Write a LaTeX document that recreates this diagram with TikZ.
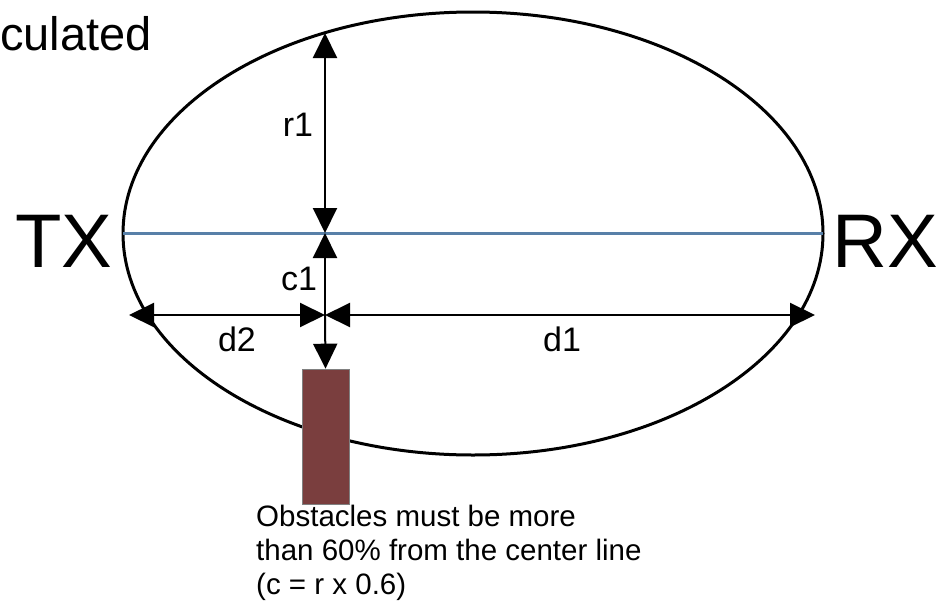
\documentclass[tikz,border=0pt]{standalone}
\usepackage{fontspec}
\setmainfont{Liberation Sans}
\usetikzlibrary{arrows.meta,positioning,shapes.geometric}
\definecolor{losblue}{RGB}{88,128,168}
\definecolor{brick}{RGB}{122,62,62}

\begin{document}
\begin{tikzpicture}[x=1pt,y=-1pt,
  dim/.style={line width=2pt,{Triangle[length=25pt,width=24pt]}-{Triangle[length=25pt,width=24pt]}},
  tip/.style={line width=2pt,-{Triangle[length=25pt,width=24pt]}},
  lbl/.style={inner sep=0pt,font=\fontsize{34}{40}\selectfont},
  big/.style={inner sep=0pt,font=\fontsize{76}{90}\selectfont}]
\useasboundingbox (0,0) rectangle (939,608);
\node[ellipse,draw,line width=3pt,minimum width=700pt,minimum height=443pt,inner sep=0pt,outer sep=0pt] (zone) at (473,233.5) {};
\draw[losblue,line width=3pt] (zone.west) -- (zone.east);
\node[draw=gray,fill=brick,line width=0.6pt,minimum width=47pt,minimum height=135pt,inner sep=0pt] (obst) at (325.5,436.5) {};
\coordinate (top) at (325,33);
\coordinate (mid) at (325,233);
\coordinate (cross) at (325,315);
\coordinate (dleft) at (129,315);
\coordinate (dright) at (815,315);
\draw[dim] (mid) -- (top);
\draw[tip] (cross) -- (mid);
\draw[tip] (cross) -- (obst.north);
\draw[dim] (dleft) -- (cross);
\draw[dim] (cross) -- (dright);
\node[lbl] (r1) at (298,125) {r1};
\node[lbl] (c1) at (299,279) {c1};
\node[lbl] (d2) at (237,339) {d2};
\node[lbl] (d1) at (562,339) {d1};
\node[big,anchor=base west] (tx) at (15,267) {TX};
\node[big,anchor=base west] (rx) at (832,267) {RX};
\node[inner sep=0pt,anchor=base west,font=\fontsize{47}{56}\selectfont] (head) at (0,50) {culated};
\node[inner sep=0pt,anchor=north west,align=left,font=\fontsize{29.5}{34}\selectfont] (note) at (256,505) {Obstacles must be more\\than 60\% from the center line\\(c = r x 0.6)};
\end{tikzpicture}
\end{document}
